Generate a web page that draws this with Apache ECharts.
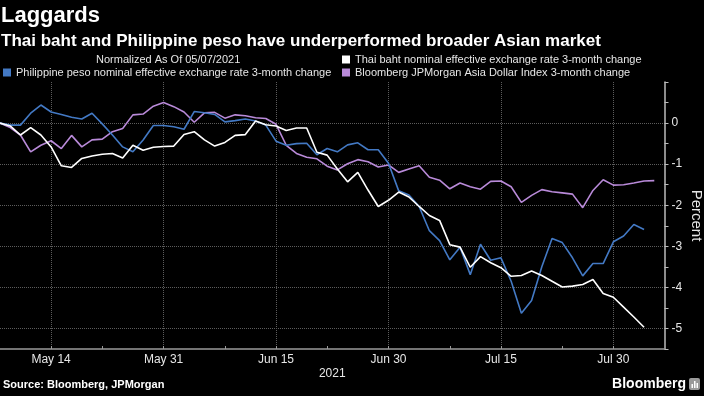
<!DOCTYPE html>
<html>
<head>
<meta charset="utf-8">
<script src="https://cdn.jsdelivr.net/npm/echarts@6/dist/echarts.min.js"></script>
<style>
html, body { margin: 0; padding: 0; background: #000; }
#chart { width: 704px; height: 396px; }
</style>
</head>
<body>
<div id="chart"></div>
<script>
// business days, normalized at May 7 2021
const dates = [
    'May 7', 'May 10', 'May 11', 'May 12', 'May 13', 'May 14', 'May 17', 'May 18', 'May 19', 'May 20', 'May 21',
    'May 24', 'May 25', 'May 26', 'May 27', 'May 28', 'May 31', 'Jun 1', 'Jun 2', 'Jun 3', 'Jun 4',
    'Jun 7', 'Jun 8', 'Jun 9', 'Jun 10', 'Jun 11', 'Jun 14', 'Jun 15', 'Jun 16', 'Jun 17', 'Jun 18',
    'Jun 21', 'Jun 22', 'Jun 23', 'Jun 24', 'Jun 25', 'Jun 28', 'Jun 29', 'Jun 30', 'Jul 1', 'Jul 2',
    'Jul 5', 'Jul 6', 'Jul 7', 'Jul 8', 'Jul 9', 'Jul 12', 'Jul 13', 'Jul 14', 'Jul 15', 'Jul 16',
    'Jul 19', 'Jul 20', 'Jul 21', 'Jul 22', 'Jul 23', 'Jul 26', 'Jul 27', 'Jul 28', 'Jul 29', 'Jul 30',
    'Aug 2', 'Aug 3', 'Aug 4', 'Aug 5', 'Aug 6'
];
const tickLabels = ['May 14', 'May 31', 'Jun 15', 'Jun 30', 'Jul 15', 'Jul 30'];
const minorTicks = ['May 21', 'Jun 8', 'Jun 22', 'Jul 8', 'Jul 23'];

const thaiBaht = [
    0, -0.07, -0.29, -0.11, -0.29, -0.58, -1.04, -1.08, -0.86, -0.80, -0.76,
    -0.74, -0.85, -0.54, -0.66, -0.59, -0.57, -0.56, -0.28, -0.21, -0.41,
    -0.56, -0.47, -0.30, -0.28, 0.05, -0.04, -0.07, -0.18, -0.12, -0.12,
    -0.71, -0.78, -1.12, -1.43, -1.20, -1.63, -2.03, -1.88, -1.68, -1.80,
    -2.03, -2.25, -2.37, -2.96, -3.02, -3.51, -3.25, -3.40, -3.52, -3.73,
    -3.71, -3.60, -3.71, -3.85, -3.99, -3.97, -3.93, -3.81, -4.15, -4.24,
    -4.48, -4.72, -4.97
];
const philPeso = [
    0, -0.05, -0.05, 0.24, 0.44, 0.27, 0.21, 0.14, 0.10, 0.24, -0.02,
    -0.29, -0.58, -0.70, -0.41, -0.06, -0.06, -0.09, -0.15, 0.28, 0.25,
    0.21, 0.03, 0.06, 0.10, 0.05, -0.05, -0.44, -0.54, -0.50, -0.49,
    -0.77, -0.62, -0.70, -0.53, -0.48, -0.65, -0.65, -0.98, -1.65, -1.75,
    -2.03, -2.62, -2.86, -3.33, -3.02, -3.69, -2.95, -3.34, -3.28, -3.85,
    -4.63, -4.32, -3.50, -2.81, -2.91, -3.28, -3.72, -3.42, -3.42, -2.89,
    -2.75, -2.47, -2.59
];
const asiaDollar = [
    0, -0.11, -0.29, -0.70, -0.54, -0.43, -0.62, -0.30, -0.58, -0.41, -0.39,
    -0.21, -0.13, 0.20, 0.22, 0.41, 0.50, 0.40, 0.27, 0.02, 0.25,
    0.26, 0.12, 0.20, 0.18, 0.13, 0.11, -0.03, -0.54, -0.74, -0.83,
    -0.87, -1.05, -1.14, -0.99, -0.89, -0.94, -1.07, -1.02, -1.20, -1.12,
    -1.04, -1.32, -1.39, -1.60, -1.46, -1.55, -1.61, -1.42, -1.41, -1.55,
    -1.93, -1.76, -1.62, -1.67, -1.70, -1.73, -2.06, -1.64, -1.38, -1.51,
    -1.50, -1.46, -1.41, -1.40
];

const nameThai = 'Thai baht nominal effective exchange rate 3-month change';
const namePhil = 'Philippine peso nominal effective exchange rate 3-month change';
const nameAsia = 'Bloomberg JPMorgan Asia Dollar Index 3-month change';

const chart = echarts.init(document.getElementById('chart'));
const font = 'Liberation Sans, Arial, sans-serif';
const gridGray = '#5c5c5c';

const legendText = { color: '#e6e6e6', fontSize: 11, fontFamily: font, lineHeight: 11 };

const option = {
    backgroundColor: '#000',
    animation: false,
    textStyle: { fontFamily: font },
    title: [
        { text: 'Laggards', left: 1, top: 5, padding: 0,
          textStyle: { color: '#fff', fontSize: 22, fontWeight: 'bold', fontFamily: font } },
        { text: 'Thai baht and Philippine peso have underperformed broader Asian market', left: 1, top: 33, padding: 0,
          textStyle: { color: '#fff', fontSize: 17, fontWeight: 'bold', fontFamily: font } },
        { text: 'Source: Bloomberg, JPMorgan', left: 3, top: 379, padding: 0,
          textStyle: { color: '#fff', fontSize: 11, fontWeight: 'bold', fontFamily: font } },
        { text: 'Bloomberg', right: 18, top: 377, padding: 0,
          textStyle: { color: '#fff', fontSize: 14, fontWeight: 'bold', fontFamily: font } }
    ],
    graphic: [
        { type: 'text', left: 96, top: 54,
          style: { text: 'Normalized As Of 05/07/2021', fill: '#e6e6e6', font: '11px ' + font } },
        { type: 'rect', right: 4, top: 378, shape: { width: 11, height: 12, r: 2 }, style: { fill: '#9a9a9a' } },
        { type: 'rect', right: 11, top: 384, shape: { width: 1.5, height: 4 }, style: { fill: '#fff' } },
        { type: 'rect', right: 8.5, top: 381, shape: { width: 1.5, height: 7 }, style: { fill: '#fff' } },
        { type: 'rect', right: 6, top: 383, shape: { width: 1.5, height: 5 }, style: { fill: '#fff' } }
    ],
    legend: [
        { data: [nameThai, nameAsia], orient: 'vertical', left: 342, top: 54, padding: 0,
          itemWidth: 8, itemHeight: 8, itemGap: 2, icon: 'rect', textStyle: legendText },
        { data: [namePhil], left: 3, top: 67, padding: 0,
          itemWidth: 8, itemHeight: 8, icon: 'rect', textStyle: legendText }
    ],
    grid: { left: 0, right: 39.5, top: 82, bottom: 47, containLabel: false, outerBoundsMode: 'none' },
    xAxis: {
        type: 'category',
        data: dates,
        boundaryGap: false,
        name: '2021',
        nameLocation: 'middle',
        nameGap: 19,
        nameMoveOverlap: false,
        nameTextStyle: { color: '#e6e6e6', fontSize: 12 },
        axisLine: { onZero: false, lineStyle: { color: '#9a9a9a', width: 1.5 } },
        axisTick: {
            inside: true, length: 3,
            interval: (i, v) => tickLabels.includes(v) || minorTicks.includes(v),
            lineStyle: { color: '#9a9a9a' }
        },
        axisLabel: {
            interval: (i, v) => tickLabels.includes(v),
            color: '#e6e6e6', fontSize: 12, margin: 5
        },
        splitLine: {
            show: true,
            interval: (i, v) => tickLabels.includes(v),
            lineStyle: { type: 'dotted', color: gridGray }
        }
    },
    yAxis: {
        type: 'value',
        position: 'right',
        min: -5.5,
        max: 1,
        interval: 0.5,
        name: 'Percent',
        nameLocation: 'middle',
        nameRotate: -90,
        nameGap: 24,
        nameMoveOverlap: false,
        nameTextStyle: { color: '#e6e6e6', fontSize: 15 },
        axisLine: { show: true, lineStyle: { color: '#bbbbbb', width: 1.5 } },
        axisTick: { show: true, length: 4, lineStyle: { color: '#bbbbbb' } },
        axisLabel: {
            color: '#e6e6e6', fontSize: 12, margin: 7,
            formatter: v => (Number.isInteger(v) && v <= 0) ? String(v) : ''
        },
        splitLine: {
            show: true,
            showMaxLine: false,
            lineStyle: { type: 'dotted', color: ['rgba(0,0,0,0)', gridGray] }
        }
    },
    series: [
        { name: nameAsia, type: 'line', data: asiaDollar, symbol: 'none', z: 2,
          itemStyle: { color: '#b98ad9' }, lineStyle: { color: '#b98ad9', width: 1.6 } },
        { name: namePhil, type: 'line', data: philPeso, symbol: 'none', z: 3,
          itemStyle: { color: '#4379c4' }, lineStyle: { color: '#4379c4', width: 1.6 } },
        { name: nameThai, type: 'line', data: thaiBaht, symbol: 'none', z: 4,
          itemStyle: { color: '#ffffff' }, lineStyle: { color: '#ffffff', width: 1.6 } }
    ]
};
chart.setOption(option);
</script>
</body>
</html>
